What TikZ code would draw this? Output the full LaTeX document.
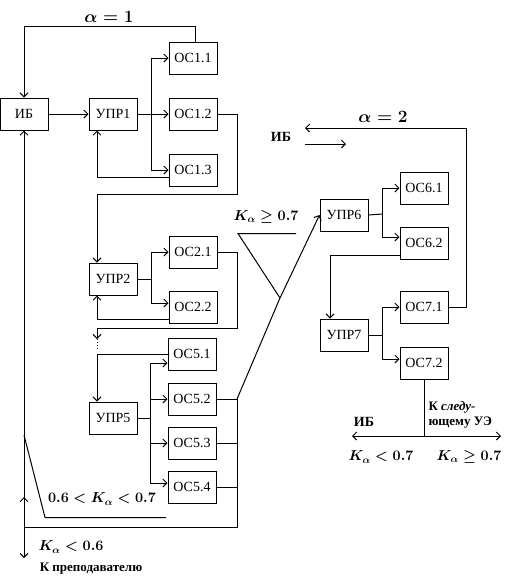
\documentclass[tikz,border=0pt]{standalone}
\usepackage[no-math]{fontspec}
\setmainfont{Liberation Serif}
\usetikzlibrary{arrows.meta}
\tikzset{
  box/.style={draw, line width=1pt, minimum width=48pt, minimum height=32pt, inner sep=0pt, font=\fontsize{14}{16}\selectfont},
  arr/.style={-{Straight Barb[length=4pt,width=8pt]}},
  mlab/.style={inner sep=0pt, font=\fontsize{14}{16}\selectfont\boldmath},
  alab/.style={inner sep=0pt, font=\fontsize{17}{19}\selectfont\boldmath},
  tlab/.style={inner sep=0pt, font=\fontsize{14}{16}\selectfont\bfseries},
}
\begin{document}
\begin{tikzpicture}[x=1pt,y=-1pt,line width=1pt]
\useasboundingbox (0,0) rectangle (507,582);
% boxes
\node[box] (ib) at (24,114) {ИБ};
\node[box] (upr1) at (113,114) {УПР1};
\node[box] (os11) at (193,58) {ОС1.1};
\node[box] (os12) at (193,114) {ОС1.2};
\node[box] (os13) at (193,170) {ОС1.3};
\node[box] (upr2) at (113,279) {УПР2};
\node[box] (os21) at (193,252) {ОС2.1};
\node[box] (os22) at (193,307) {ОС2.2};
\node[box] (os51) at (192,354) {ОС5.1};
\node[box] (upr5) at (113,418) {УПР5};
\node[box] (os52) at (192,399) {ОС5.2};
\node[box] (os53) at (192,443) {ОС5.3};
\node[box] (os54) at (192,487) {ОС5.4};
\node[box] (upr6) at (344,215) {УПР6};
\node[box] (os61) at (424,188) {ОС6.1};
\node[box] (os62) at (424,243) {ОС6.2};
\node[box] (upr7) at (344,335) {УПР7};
\node[box] (os71) at (424,307) {ОС7.1};
\node[box] (os72) at (424,363) {ОС7.2};
% top loop alpha=1
\coordinate (t1) at (24,26);
\draw[arr] ([xshift=2pt]os11.north) |- (t1) -- (ib.north);
\node[alab] (al1) at (109,17) {$\alpha = 1$};
% level 1
\draw[arr] (ib) -- (upr1);
\coordinate (b1) at (151,114);
\draw (upr1.east) -- (b1);
\draw[arr] (b1) |- (os11.west);
\draw[arr] (b1) -- (os12.west);
\draw[arr] (b1) |- (os13.west);
\draw[arr] ([yshift=-7pt]os13.west) -| ([xshift=-16pt]upr1.south);
\coordinate (r1) at (237,194);
\draw[arr] (os12.east) -| (r1) -| ([xshift=-16pt]upr2.north);
% level 2
\coordinate (b2) at (151,279);
\draw (upr2.east) -- (b2);
\draw[arr] (b2) |- (os21.west);
\draw[arr] (b2) |- ([yshift=4pt]os22.west);
\draw[arr] ([yshift=-12pt]os22.west) -| ([xshift=-16pt]upr2.south);
\coordinate (r2) at (237,328);
\coordinate (d1) at (97,339);
\coordinate (d2) at (97,349);
\draw[arr] (os21.east) -| (r2) -| (d1);
\draw[dotted,line width=1pt] (d1) -- (d2);
% level 5
\draw[arr] (os51.west) -| ([xshift=-16pt]upr5.north);
\coordinate (b5) at (150,418);
\draw (upr5.east) -- (b5);
\draw[arr] (b5) |- ([yshift=-9pt]os51.west);
\draw[arr] (b5) |- (os52.west);
\draw[arr] (b5) |- (os53.west);
\draw[arr] (b5) |- ([yshift=4pt]os54.west);
\coordinate (r5a) at (237,399);
\coordinate (r5b) at (237,527);
\draw (os52.east) -- (r5a);
\draw (os53.east) -- (os53.east -| r5a);
\draw (os54.east) -- (os54.east -| r5a);
\coordinate (L1) at (24,527);
\coordinate (L2) at (24,558);
\coordinate (Lm) at (24,497);
\draw (r5a) -- (r5b) -- (L1);
\draw[arr] (L1) -- (ib.south);
\draw[arr] (L1) -- (L2);
\draw[arr] (L1) -- (Lm);
\coordinate (s1) at (24,435);
\coordinate (s2) at (45,517.5);
\coordinate (s3) at (166,517.5);
\draw (s1) -- (s2) -- (s3);
\node[mlab] (k1) at (102,499) {$0.6 < K_\alpha < 0.7$};
\node[mlab] (k2) at (71,547) {$K_\alpha < 0.6$};
\node[tlab, font=\fontsize{13}{15}\selectfont\bfseries] (kp) at (91,569) {К преподавателю};
% middle switch
\coordinate (m1) at (280,298);
\coordinate (m2) at (238,233.5);
\coordinate (m3) at (296,233.5);
\draw (r5a) -- (m1);
\draw[arr] (m1) -- (upr6.west);
\draw (m1) -- (m2) -- (m3);
\node[mlab] (k3) at (266,217) {$K_\alpha \ge 0.7$};
% right top: alpha=2
\coordinate (t2) at (466,128);
\coordinate (a2) at (305,128);
\draw[arr] (os71.east) -| (t2) -- (a2);
\coordinate (a3) at (305,144);
\coordinate (a4) at (346,144);
\draw[arr] (a3) -- (a4);
\node[alab] (al2) at (383,117) {$\alpha = 2$};
\node[tlab] (ib2) at (281,137) {ИБ};
% level 6
\coordinate (b6) at (382,214);
\draw (upr6.east) -- (b6);
\draw[arr] (b6) |- (os61.west);
\draw[arr] (b6) |- ([yshift=6pt]os62.west);
\draw[arr] ([yshift=-12pt]os62.west) -| ([xshift=-14pt]upr7.north);
% level 7
\coordinate (b7) at (382,335);
\draw (upr7.east) -- (b7);
\draw[arr] (b7) |- (os71.west);
\draw[arr] (b7) |- ([yshift=4pt]os72.west);
\coordinate (e1) at (424,436);
\coordinate (e2) at (352,436);
\coordinate (e3) at (501,436);
\draw (os72.south) -- (e1);
\draw[arr] (e1) -- (e2);
\draw[arr] (e1) -- (e3);
\node[tlab] (ib3) at (364,422) {ИБ};
\node[tlab, anchor=west, align=left, font=\fontsize{13}{15}\selectfont\bfseries] (nx) at (428,415) {К \textit{следу-}\\ющему УЭ};
\node[mlab] (k4) at (381,457) {$K_\alpha < 0.7$};
\node[mlab] (k5) at (469,457) {$K_\alpha \ge 0.7$};
\end{tikzpicture}
\end{document}
